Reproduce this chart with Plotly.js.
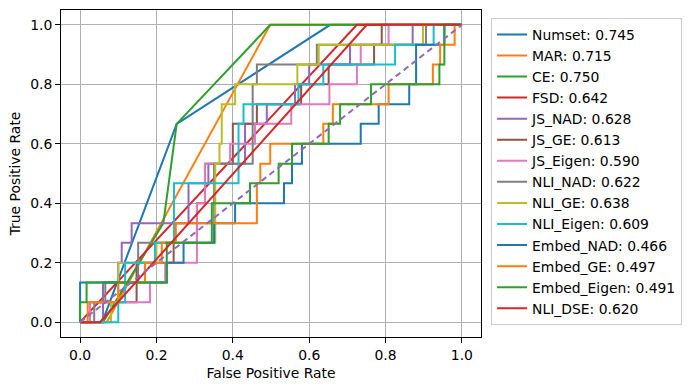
<!DOCTYPE html>
<html>
<head>
<meta charset="utf-8">
<script src="https://cdn.plot.ly/plotly-3.0.1.min.js"></script>
<style>html,body{margin:0;padding:0;background:#fff;}#chart{width:692px;height:390px;}</style>
</head>
<body>
<div id="chart"></div>
<script>
// Series names and AUC labels
const names = ["Numset","MAR","CE","FSD","JS_NAD","JS_GE","JS_Eigen","NLI_NAD","NLI_GE","NLI_Eigen","Embed_NAD","Embed_GE","Embed_Eigen","NLI_DSE"];
const aucs = ["0.745","0.715","0.750","0.642","0.628","0.613","0.590","0.622","0.638","0.609","0.466","0.497","0.491","0.620"];
const colors = ["#1f77b4","#ff7f0e","#2ca02c","#d62728","#9467bd","#8c564b","#e377c2","#7f7f7f","#bcbd22","#17becf","#1f77b4","#ff7f0e","#2ca02c","#d62728"];

// ROC points (false positive rate, true positive rate)
const fpr_numset = [0, 0.058, 0.253, 0.655, 1];
const tpr_numset = [0, 0, 0.667, 1, 1];
const fpr_mar = [0, 0.07, 0.498, 1];
const tpr_mar = [0, 0, 1, 1];
const fpr_ce = [0, 0.06, 0.218, 0.253, 0.498, 1];
const tpr_ce = [0, 0, 0.333, 0.667, 1, 1];
const fpr_fsd = [0, 0.725, 1];
const tpr_fsd = [0, 1, 1];
const fpr_js_nad = [0, 0.06, 0.06, 0.1, 0.1, 0.109, 0.109, 0.135, 0.135, 0.284, 0.284, 0.336, 0.336, 0.432, 0.432, 0.489, 0.489, 0.563, 0.563, 0.6, 0.6, 0.707, 0.707, 0.871, 0.871, 1];
const tpr_js_nad = [0, 0, 0.133, 0.133, 0.2, 0.2, 0.267, 0.267, 0.333, 0.333, 0.467, 0.467, 0.533, 0.533, 0.667, 0.667, 0.733, 0.733, 0.8, 0.8, 0.867, 0.867, 0.933, 0.933, 1, 1];
const fpr_js_ge = [0, 0.026, 0.026, 0.148, 0.148, 0.245, 0.245, 0.306, 0.306, 0.327, 0.327, 0.4, 0.4, 0.463, 0.463, 0.579, 0.579, 0.651, 0.651, 0.77, 0.77, 0.79, 0.79, 1];
const tpr_js_ge = [0, 0, 0.067, 0.067, 0.2, 0.2, 0.267, 0.267, 0.4, 0.4, 0.533, 0.533, 0.667, 0.667, 0.733, 0.733, 0.8, 0.8, 0.867, 0.867, 0.933, 0.933, 1, 1];
const fpr_js_eigen = [0, 0.026, 0.026, 0.183, 0.183, 0.223, 0.223, 0.306, 0.306, 0.327, 0.327, 0.393, 0.393, 0.458, 0.458, 0.553, 0.553, 0.653, 0.653, 0.725, 0.725, 0.735, 0.735, 0.808, 0.808, 1];
const tpr_js_eigen = [0, 0, 0.067, 0.067, 0.133, 0.133, 0.2, 0.2, 0.4, 0.4, 0.533, 0.533, 0.6, 0.6, 0.667, 0.667, 0.733, 0.733, 0.8, 0.8, 0.867, 0.867, 0.933, 0.933, 1, 1];
const fpr_nli_nad = [0, 0.037, 0.037, 0.066, 0.066, 0.152, 0.152, 0.25, 0.25, 0.351, 0.351, 0.452, 0.452, 0.463, 0.463, 0.62, 0.62, 0.906, 0.906, 1];
const tpr_nli_nad = [0, 0, 0.067, 0.067, 0.133, 0.133, 0.267, 0.267, 0.333, 0.333, 0.533, 0.533, 0.8, 0.8, 0.867, 0.867, 0.933, 0.933, 1, 1];
const fpr_nli_ge = [0, 0.081, 0.081, 0.1, 0.1, 0.2, 0.2, 0.354, 0.354, 0.365, 0.365, 0.371, 0.371, 0.406, 0.406, 0.569, 0.569, 0.625, 0.625, 0.898, 0.898, 1];
const tpr_nli_ge = [0, 0, 0.067, 0.067, 0.2, 0.2, 0.267, 0.267, 0.533, 0.533, 0.6, 0.6, 0.733, 0.733, 0.8, 0.8, 0.867, 0.867, 0.933, 0.933, 1, 1];
const fpr_nli_eigen = [0, 0.1, 0.1, 0.118, 0.118, 0.196, 0.196, 0.246, 0.246, 0.415, 0.415, 0.428, 0.428, 0.572, 0.572, 0.637, 0.637, 0.825, 0.825, 0.926, 0.926, 1];
const tpr_nli_eigen = [0, 0, 0.067, 0.067, 0.2, 0.2, 0.267, 0.267, 0.467, 0.467, 0.667, 0.667, 0.733, 0.733, 0.8, 0.8, 0.867, 0.867, 0.933, 0.933, 1, 1];
const fpr_embed_nad = [0, 0, 0.227, 0.227, 0.271, 0.271, 0.351, 0.351, 0.406, 0.406, 0.534, 0.534, 0.555, 0.555, 0.581, 0.581, 0.735, 0.735, 0.782, 0.782, 0.862, 0.862, 0.88, 0.88, 0.954, 0.954, 1];
const tpr_embed_nad = [0, 0.133, 0.133, 0.2, 0.2, 0.267, 0.267, 0.333, 0.333, 0.4, 0.4, 0.467, 0.467, 0.533, 0.533, 0.6, 0.6, 0.667, 0.667, 0.733, 0.733, 0.8, 0.8, 0.933, 0.933, 1, 1];
const fpr_embed_ge = [0, 0.02, 0.02, 0.1, 0.1, 0.17, 0.17, 0.214, 0.214, 0.25, 0.25, 0.463, 0.463, 0.472, 0.472, 0.498, 0.498, 0.637, 0.637, 0.662, 0.662, 0.808, 0.808, 0.924, 0.924, 0.943, 0.943, 0.981, 0.981, 1];
const tpr_embed_ge = [0, 0, 0.067, 0.067, 0.133, 0.133, 0.2, 0.2, 0.267, 0.267, 0.333, 0.333, 0.467, 0.467, 0.533, 0.533, 0.6, 0.6, 0.667, 0.667, 0.733, 0.733, 0.8, 0.8, 0.867, 0.867, 0.933, 0.933, 1, 1];
const fpr_embed_eigen = [0, 0, 0.017, 0.017, 0.227, 0.227, 0.345, 0.345, 0.445, 0.445, 0.52, 0.52, 0.555, 0.555, 0.651, 0.651, 0.681, 0.681, 0.762, 0.762, 0.941, 0.941, 0.954, 0.954, 1];
const tpr_embed_eigen = [0, 0.067, 0.067, 0.133, 0.133, 0.267, 0.267, 0.4, 0.4, 0.467, 0.467, 0.533, 0.533, 0.6, 0.6, 0.667, 0.667, 0.733, 0.733, 0.8, 0.8, 0.867, 0.867, 1, 1];
const fpr_nli_dse = [0, 0.052, 0.751, 1];
const tpr_nli_dse = [0, 0, 1, 1];
const chance = [0, 1];

const fprs = [fpr_numset, fpr_mar, fpr_ce, fpr_fsd, fpr_js_nad, fpr_js_ge, fpr_js_eigen, fpr_nli_nad, fpr_nli_ge, fpr_nli_eigen, fpr_embed_nad, fpr_embed_ge, fpr_embed_eigen, fpr_nli_dse];
const tprs = [tpr_numset, tpr_mar, tpr_ce, tpr_fsd, tpr_js_nad, tpr_js_ge, tpr_js_eigen, tpr_nli_nad, tpr_nli_ge, tpr_nli_eigen, tpr_embed_nad, tpr_embed_ge, tpr_embed_eigen, tpr_nli_dse];

const FONT = "DejaVu Sans, sans-serif";
const FS = 13.9;
const traces = names.map((n, i) => ({
  x: fprs[i], y: tprs[i], type: "scatter", mode: "lines",
  name: n + ": " + aucs[i], legendgroup: "g" + i,
  line: {color: colors[i], width: 2},
  hoverinfo: "skip"
}));
traces.push({x: chance, y: chance, type: "scatter", mode: "lines", showlegend: false,
  line: {color: "#9467bd", width: 2, dash: "6px,4px"}, hoverinfo: "skip"});

const axisCommon = {
  range: [-0.05, 1.05], tickvals: [0, 0.2, 0.4, 0.6, 0.8, 1.0], ticktext: ["0.0","0.2","0.4","0.6","0.8","1.0"],
  showgrid: true, gridcolor: "#b0b0b0", gridwidth: 1, zeroline: false,
  showline: true, mirror: true, linecolor: "#000", linewidth: 1,
  ticks: "outside", ticklen: 5, tickcolor: "#000", tickwidth: 1,
  tickfont: {family: FONT, size: FS, color: "#000"}
};
const layout = {
  width: 692, height: 390,
  margin: {l: 61, r: 211, t: 10, b: 53, pad: 0},
  paper_bgcolor: "#fff", plot_bgcolor: "#fff",
  font: {family: FONT, size: FS, color: "#000"},
  xaxis: Object.assign({}, axisCommon, {title: {text: "False Positive Rate", font: {family: FONT, size: FS, color: "#000"}, standoff: 6}}),
  yaxis: Object.assign({}, axisCommon, {title: {text: "True Positive Rate", font: {family: FONT, size: FS, color: "#000"}, standoff: 6}}),
  showlegend: true,
  legend: {x: 1.024, y: 0.976, xanchor: "left", yanchor: "top", bgcolor: "#fff", bordercolor: "#cccccc", borderwidth: 1,
    font: {family: FONT, size: FS, color: "#000"}, tracegroupgap: 2.75, traceorder: "normal"}
};
Plotly.newPlot("chart", traces, layout, {staticPlot: true, displayModeBar: false});
</script>
</body>
</html>
